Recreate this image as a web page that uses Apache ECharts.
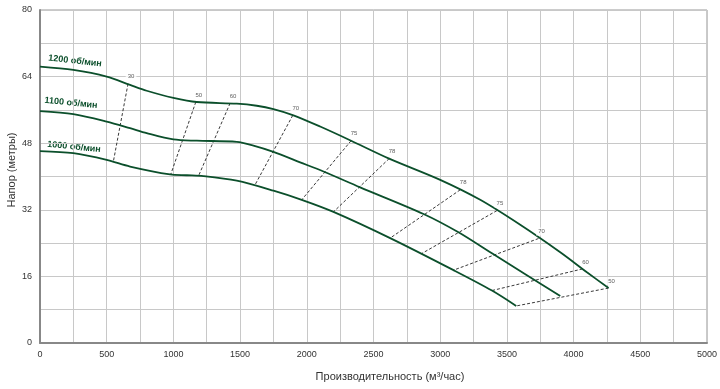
<!DOCTYPE html>
<html><head><meta charset="utf-8">
<script src="https://cdn.jsdelivr.net/npm/echarts@6/dist/echarts.min.js"></script>
<style>html,body{margin:0;padding:0;background:#fff}#c{width:720px;height:389px}</style>
</head><body><div id="c"></div>
<script>
// Pump curves: flow (m3/h) and head (m)
const flow1200 = [0,250,500,675,800,1000,1175,1475,1625,1750,1900,2100,2332,2617,3000,3300,3600,3900,4100,4262];
const head1200 = [66.4,65.6,64.0,62.0,60.6,58.9,57.9,57.5,57.0,56.2,54.7,52.0,48.6,44.3,39.2,34.4,28.4,21.8,17.0,13.2];
const flow1100 = [0,250,500,675,800,1000,1175,1475,1600,1750,1950,2125,2400,2875,3137,3400,3650,3900];
const head1100 = [55.7,55.0,53.2,51.6,50.4,48.9,48.6,48.3,47.4,45.9,43.4,41.2,37.4,31.0,26.6,21.3,16.3,11.3];
const flow1000 = [0,250,500,675,975,1100,1225,1475,1750,1962,2200,2625,3100,3388,3570];
const head1000 = [46.1,45.6,44.0,42.4,40.5,40.3,40.1,39.0,36.6,34.4,31.5,25.2,17.5,12.6,8.9];
const curveNames = ['1200 об/мин','1100 об/мин','1000 об/мин'];

// Efficiency iso-lines (%): top point on 1200 curve, bottom point on 1000 curve
const effLabels = ['30','50','60','70','75','78','78','75','70','60','50'];
const effTopFlow = [660,1168,1425,1895,2332,2617,3150,3425,3737,4067,4262];
const effTopHead = [62.3,57.9,57.6,54.7,48.6,44.3,36.8,31.8,25.1,17.8,13.2];
const effBotFlow = [550,980,1188,1612,1962,2200,2625,2862,3100,3388,3570];
const effBotHead = [43.6,40.5,40.1,38.0,34.4,31.5,25.2,21.5,17.5,12.6,8.9];

const xTicks = {min:0, max:5000, interval:500};
const yTicks = {min:0, max:80, interval:16};

const zip = (a,b) => a.map((v,i)=>[v,b[i]]);
const green = '#0b4f2b';
const series = [];
[[flow1200,head1200],[flow1100,head1100],[flow1000,head1000]].forEach(([f,h],i)=>{
  series.push({type:'line', name:curveNames[i], data:zip(f,h), smooth:0.3,
    symbol:'none', lineStyle:{color:green, width:1.8}, z:3});
});
effLabels.forEach((lab,i)=>{
  series.push({type:'line', data:[[effTopFlow[i],effTopHead[i]],[effBotFlow[i],effBotHead[i]]],
    symbol:'none', lineStyle:{color:'#222', width:0.9, type:[3,2]}, z:2});
});
series.push({type:'scatter', data:zip(effTopFlow,effTopHead), symbolSize:0, z:4,
  label:{show:true, formatter:p=>effLabels[p.dataIndex], position:'top', distance:3, offset:[3,0],
    fontSize:6, color:'#333', fontFamily:'Liberation Sans', backgroundColor:'#fff', padding:[1,2]}});

const chart = echarts.init(document.getElementById('c'), null, {renderer:'canvas'});
const labelFont = {fontFamily:'Liberation Sans', fontSize:9, color:'#333'};
chart.setOption({
  animation:false,
  backgroundColor:'#fff',
  grid:{left:40, right:13, top:10, bottom:46, show:true, borderColor:'#999', borderWidth:1},
  xAxis:{type:'value', min:xTicks.min, max:xTicks.max, interval:xTicks.interval,
    axisLine:{show:true, onZero:false, lineStyle:{color:'#888', width:2}},
    axisTick:{show:false}, minorTick:{show:false, splitNumber:2},
    splitLine:{show:true, lineStyle:{color:'#c8c8c8', width:1}},
    minorSplitLine:{show:true, lineStyle:{color:'#c8c8c8', width:1}},
    axisLabel:Object.assign({margin:7, formatter:v=>String(v)}, labelFont)},
  yAxis:{type:'value', min:yTicks.min, max:yTicks.max, interval:yTicks.interval,
    axisLine:{show:true, onZero:false, lineStyle:{color:'#888', width:2}},
    axisTick:{show:false}, minorTick:{show:false, splitNumber:2},
    splitLine:{show:true, lineStyle:{color:'#c8c8c8', width:1}},
    minorSplitLine:{show:true, lineStyle:{color:'#c8c8c8', width:1}},
    axisLabel:Object.assign({margin:8, formatter:v=>String(v)}, labelFont)},
  series:series,
  graphic:[
    {type:'text', x:390, y:377, style:{text:'Производительность (м³/час)', font:'11px "Liberation Sans"', fill:'#333', textAlign:'center', textVerticalAlign:'middle'}},
    {type:'text', x:12, y:170, rotation:Math.PI/2, style:{text:'Напор (метры)', font:'11px "Liberation Sans"', fill:'#333', textAlign:'center', textVerticalAlign:'middle'}},
    {type:'text', x:75, y:61, rotation:-0.11, style:{text:curveNames[0], font:'bold 9px "Liberation Sans"', fill:green, textAlign:'center', textVerticalAlign:'middle'}},
    {type:'text', x:71, y:103, rotation:-0.1, style:{text:curveNames[1], font:'bold 9px "Liberation Sans"', fill:green, textAlign:'center', textVerticalAlign:'middle'}},
    {type:'text', x:74, y:147, rotation:-0.1, style:{text:curveNames[2], font:'bold 9px "Liberation Sans"', fill:green, textAlign:'center', textVerticalAlign:'middle'}}
  ]
});
</script></body></html>
